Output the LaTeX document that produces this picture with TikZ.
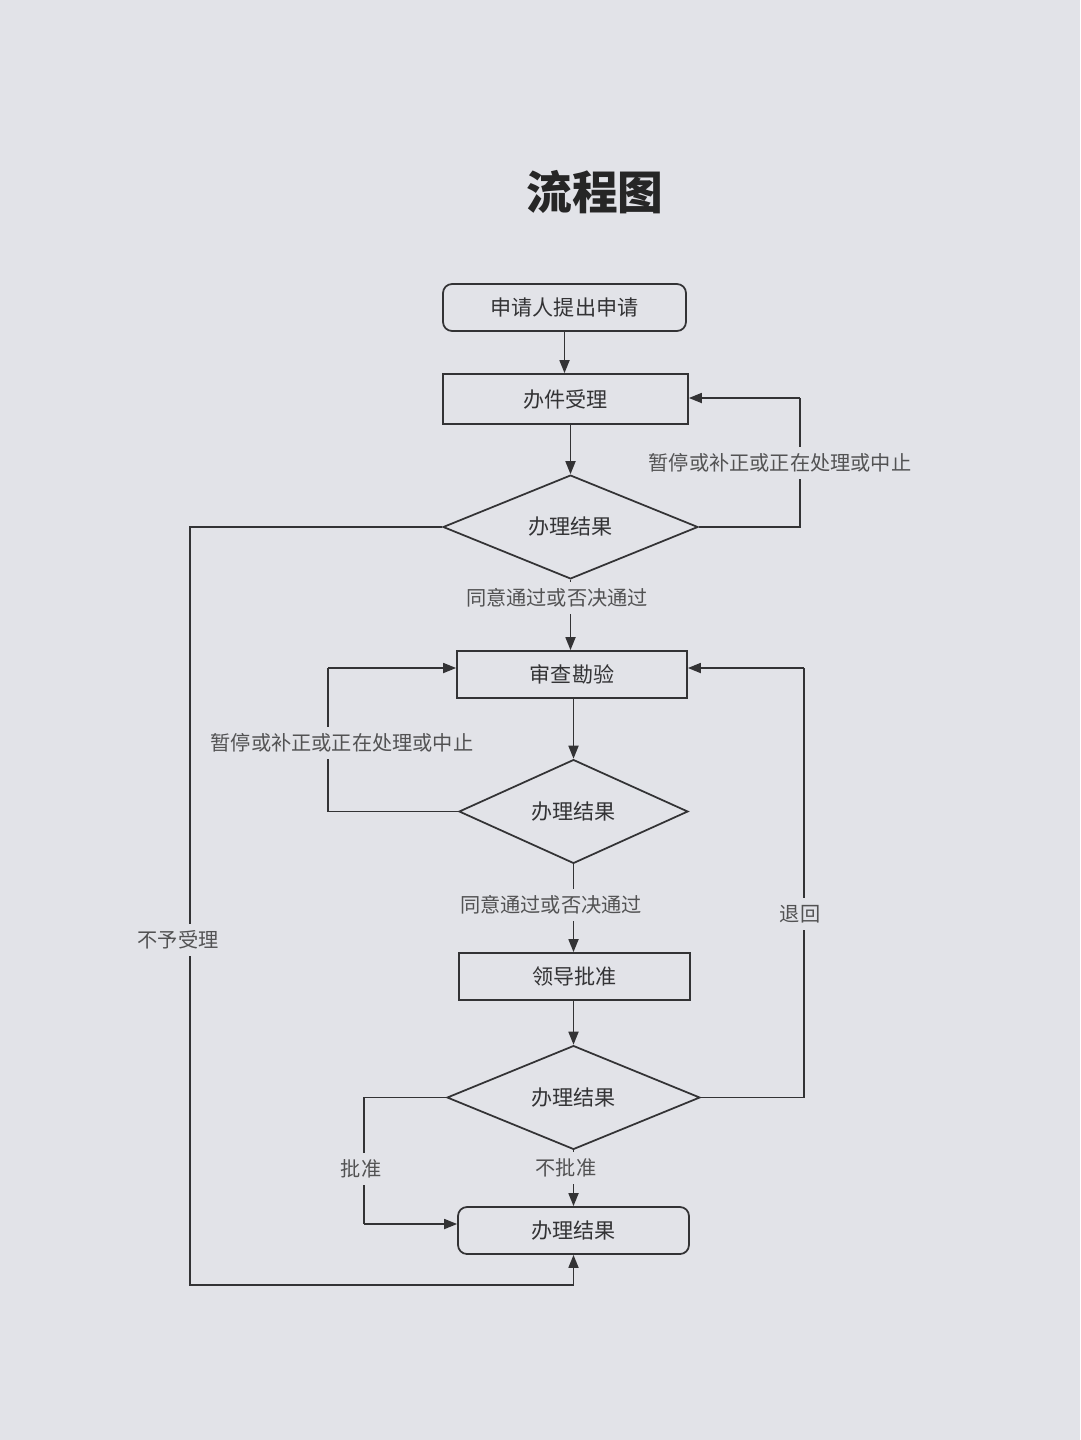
\documentclass[tikz,border=0pt]{standalone}
\usepackage{fontspec}
\setmainfont{Noto Sans CJK SC}
\usetikzlibrary{shapes.geometric,arrows.meta,calc}
\definecolor{paper}{HTML}{E2E3E8}
\definecolor{ink}{HTML}{333335}
\tikzset{
  box/.style={draw=ink,line width=1pt,fill=paper,inner sep=0pt,text=ink,font=\fontsize{12}{14}\selectfont},
  rbox/.style={box,rounded corners=0.18cm},
  dia/.style={draw=ink,line width=1pt,shape=diamond,inner sep=0pt,text=ink,font=\fontsize{12}{14}\selectfont},
  conn/.style={draw=ink,line width=1pt},
  arr/.style={conn,-{Triangle[length=0.26cm,width=0.2cm]}},
  lab/.style={fill=paper,inner xsep=2pt,inner ysep=4pt,text=ink!85,font=\fontsize{11.5}{13}\selectfont}
}
\begin{document}
\begin{tikzpicture}[x=0.02cm,y=-0.02cm]
\fill[paper] (0,0) rectangle (1080,1440);
\useasboundingbox (0,0) rectangle (1080,1440);

\node[text=black!85,font=\bfseries\fontsize{26}{30}\selectfont] (title) at (595,192) {流程图};

\node[rbox,minimum width=4.86cm,minimum height=0.94cm] (b1) at (564.5,307.5) {申请人提出申请};
\node[box,minimum width=4.9cm,minimum height=1.0cm] (b2) at (565.5,399) {办件受理};
\node[dia,minimum width=5.1cm,minimum height=2.0cm] (d1) at (570.5,527) {办理结果};
\node[box,minimum width=4.6cm,minimum height=0.94cm] (b3) at (572,674.5) {审查勘验};
\node[dia,minimum width=4.58cm,minimum height=1.86cm] (d2) at (573.5,811.5) {办理结果};
\node[box,minimum width=4.62cm,minimum height=0.94cm] (b4) at (574.5,976.5) {领导批准};
\node[dia,minimum width=5.06cm,minimum height=1.82cm] (d3) at (573.5,1097.5) {办理结果};
\node[rbox,minimum width=4.62cm,minimum height=0.94cm] (fin) at (573.5,1230.5) {办理结果};

\coordinate (r1) at (800,398);
\coordinate (l2) at (190,1285);
\coordinate (l3) at (328,668);
\coordinate (r3) at (804,668);
\coordinate (l4) at (364,1224);

\draw[arr] (b1.south) -- (b2.north -| b1.south);
\draw[arr] (b2.south -| d1.north) -- (d1.north);
\draw[conn] (d1.east) -| (r1);
\draw[arr] (r1) -- (r1 -| b2.east);
\draw[arr] (d1.west) -| (l2) -| (fin.south);
\draw[arr] (d1.south) -- (b3.north -| d1.south);
\draw[arr] (b3.south -| d2.north) -- (d2.north);
\draw[conn] (d2.west) -| (l3);
\draw[arr] (l3) -- (l3 -| b3.west);
\draw[arr] (d2.south) -- (b4.north -| d2.south);
\draw[arr] (b4.south -| d3.north) -- (d3.north);
\draw[conn] (d3.east) -| (r3);
\draw[arr] (r3) -- (r3 -| b3.east);
\draw[conn] (d3.west) -| (l4);
\draw[arr] (l4) -- (l4 -| fin.west);
\draw[arr] (d3.south) -- (fin.north);

\node[lab] (t1) at (780,463) {暂停或补正或正在处理或中止};
\node[lab] (t2) at (557,598) {同意通过或否决通过};
\node[lab] (t3) at (342,743) {暂停或补正或正在处理或中止};
\node[lab] (t4) at (551,905) {同意通过或否决通过};
\node[lab] (t5) at (800,914) {退回};
\node[lab] (t6) at (178,940) {不予受理};
\node[lab] (t7) at (361,1169) {批准};
\node[lab] (t8) at (566,1168) {不批准};
\end{tikzpicture}
\end{document}
